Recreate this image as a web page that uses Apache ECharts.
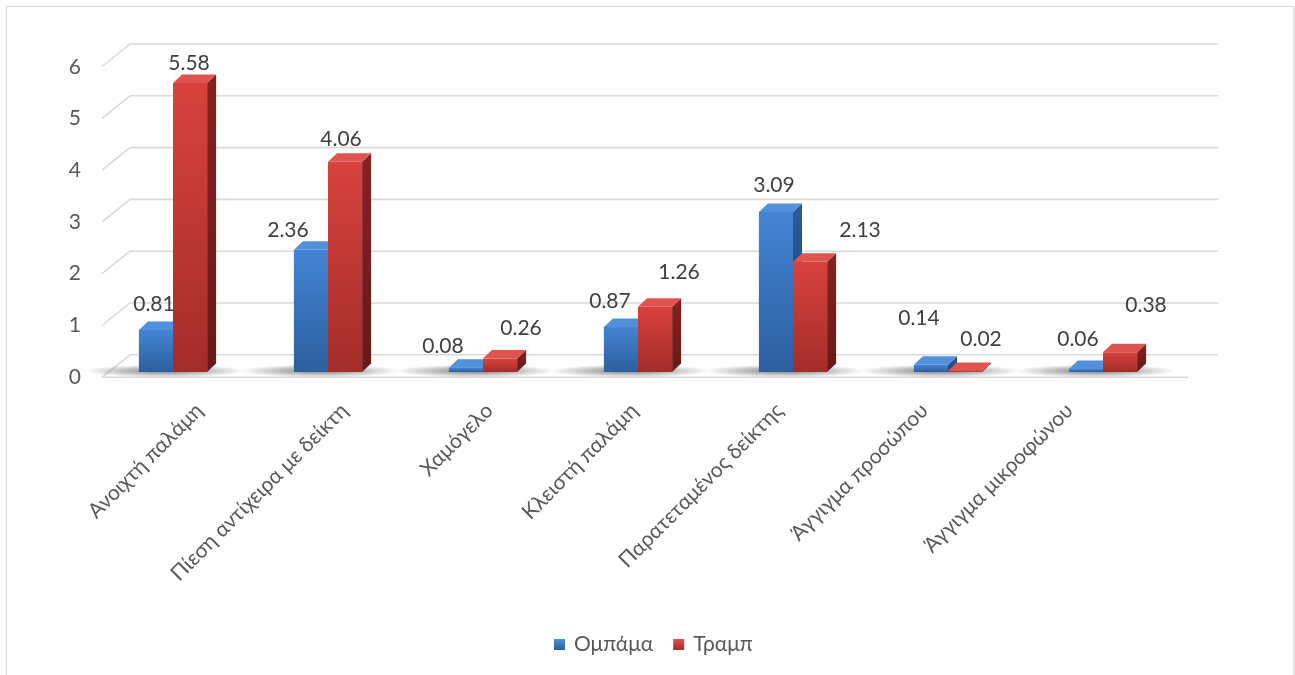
<!DOCTYPE html>
<html>
<head>
<meta charset="utf-8">
<script src="https://cdn.jsdelivr.net/npm/echarts@6/dist/echarts.min.js"></script>
<style>
  html, body { margin: 0; padding: 0; background: #ffffff; }
  #chart { width: 1295px; height: 675px; }
</style>
</head>
<body>
<div id="chart"></div>
<script>
// Categories and values
const categories = [
  'Ανοιχτή παλάμη',
  'Πίεση αντίχειρα με δείκτη',
  'Χαμόγελο',
  'Κλειστή παλάμη',
  'Παρατεταμένος δείκτης',
  'Άγγιγμα προσώπου',
  'Άγγιγμα μικροφώνου'
];
const obama = [0.81, 2.36, 0.08, 0.87, 3.09, 0.14, 0.06];
const trump = [5.58, 4.06, 0.26, 1.26, 2.13, 0.02, 0.38];
const yTicks = [0, 1, 2, 3, 4, 5, 6];

// Per-label nudges [dx, dy] so value labels stay clear of each other
const labelShiftObama = [[-2, -2], [-23, 4], [-23, 2], [-11, -2], [-2, -3], [-12, -23], [-8, -6]];
const labelShiftTrump = [[-1, 4], [-4, 2], [21, -6], [24, -10], [50, -7], [16, -8], [26, -23]];

const FONT = 'Lato, "Noto Sans", sans-serif';
const TEXT = '#595959';
const GRID_LINE = '#d9d9d9';
const BAR_RATIO = 0.22;      // bar width as share of category band
const DEPTH_X = 9, DEPTH_Y = -8.5;

// 3D-ish column: front face, right side face, top face
function columnRenderer(isLeft, palette, shifts) {
  return function (params, api) {
    const i = api.value(0), v = api.value(1);
    const top = api.coord([i, v]);
    const bot = api.coord([i, 0]);
    const band = api.size([1, 0])[0];
    const w = band * BAR_RATIO;
    const x0 = isLeft ? top[0] - w : top[0];
    const x1 = x0 + w;
    const yT = top[1], yB = bot[1];
    const children = [];
    if (isLeft) {
      // soft floor shadow under the pair of columns
      children.push({
        type: 'circle',
        x: top[0] - 8, y: yB - 1,
        scaleY: 0.08,
        shape: { cx: 0, cy: 0, r: 80 },
        style: {
          fill: {
            type: 'radial', x: 0.5, y: 0.5, r: 0.5,
            colorStops: [
              { offset: 0, color: 'rgba(0,0,0,0.5)' },
              { offset: 0.55, color: 'rgba(0,0,0,0.24)' },
              { offset: 1, color: 'rgba(0,0,0,0)' }
            ]
          }
        },
        silent: true
      });
    }
    children.push({
      type: 'polygon',
      shape: { points: [[x1, yB], [x1, yT], [x1 + DEPTH_X, yT + DEPTH_Y], [x1 + DEPTH_X, yB + DEPTH_Y]] },
      style: {
        fill: {
          type: 'linear', x: 0, y: 0, x2: 0, y2: 1,
          colorStops: [{ offset: 0, color: palette.side[0] }, { offset: 1, color: palette.side[1] }]
        }
      }
    });
    children.push({
      type: 'rect',
      shape: { x: x0, y: yT, width: w, height: Math.max(yB - yT, 0.5) },
      style: {
        fill: {
          type: 'linear', x: 0, y: 0, x2: 0, y2: 1,
          colorStops: [{ offset: 0, color: palette.front[0] }, { offset: 1, color: palette.front[1] }]
        }
      }
    });
    children.push({
      type: 'polygon',
      shape: { points: [[x0, yT], [x1, yT], [x1 + DEPTH_X, yT + DEPTH_Y], [x0 + DEPTH_X, yT + DEPTH_Y]] },
      style: { fill: palette.top }
    });
    const s = shifts[params.dataIndex];
    children.push({
      type: 'text',
      style: {
        text: v.toFixed(2),
        x: x0 + w / 2 + s[0],
        y: yT - 24 + s[1],
        align: 'center',
        verticalAlign: 'middle',
        fill: '#404040',
        fontSize: 21,
        fontFamily: FONT
      },
      z2: 10
    });
    return { type: 'group', children: children };
  };
}

// Back wall gridlines, left-side connectors and floor edge
function wallRenderer(params, api) {
  const v = api.value(1);
  const p = api.coord([0, v]);
  const cs = params.coordSys;
  const yb = p[1] - 17.2, yf = p[1] + 5.3;
  const style = { stroke: GRID_LINE, lineWidth: 1.6 };
  const children = [
    { type: 'line', shape: { x1: cs.x + 34.5, y1: yb, x2: cs.x + cs.width + 37.5, y2: yb }, style: style },
    { type: 'line', shape: { x1: cs.x + 6.5, y1: yf, x2: cs.x + 34.5, y2: yb }, style: style }
  ];
  if (v === 0) {
    children.push({ type: 'line', shape: { x1: cs.x + 6.5, y1: yf, x2: cs.x + cs.width + 7.5, y2: yf }, style: style });
  }
  return { type: 'group', children: children, silent: true };
}

const bluePalette = { front: ['#4384d4', '#2c5f9f'], side: ['#2a5a98', '#1f4578'], top: '#5290dc' };
const redPalette = { front: ['#d8423e', '#a42c29'], side: ['#85221f', '#661a18'], top: '#e0544f' };

const chart = echarts.init(document.getElementById('chart'), null, { renderer: 'canvas' });
chart.setOption({
  backgroundColor: '#ffffff',
  animation: false,
  textStyle: { fontFamily: FONT },
  graphic: [{
    type: 'rect',
    shape: { x: 6.5, y: 6.5, width: 1287.5, height: 690 },
    style: { fill: 'none', stroke: '#d9d9d9', lineWidth: 1.2 },
    silent: true
  }],
  legend: {
    data: ['Ομπάμα', 'Τραμπ'],
    left: 549,
    top: 629,
    icon: 'rect',
    itemWidth: 11,
    itemHeight: 11,
    itemGap: 20,
    textStyle: { color: TEXT, fontSize: 21, fontFamily: FONT, padding: [0, 0, 0, 4] }
  },
  grid: [
    { left: 95.5, top: 61.2, width: 1085, height: 310.8 },
    { left: 127, top: 66.8, width: 1015, height: 310.2 }
  ],
  xAxis: [
    { type: 'category', gridIndex: 0, data: categories, show: false },
    {
      type: 'category', gridIndex: 1, data: categories,
      axisLine: { show: false }, axisTick: { show: false },
      axisLabel: { rotate: 45, interval: 0, margin: 30, color: TEXT, fontSize: 21, fontFamily: FONT }
    }
  ],
  yAxis: [
    { type: 'value', gridIndex: 0, min: 0, max: 6, interval: 1, show: false },
    {
      type: 'value', gridIndex: 1, min: 0, max: 6, interval: 1,
      axisLine: { show: false }, axisTick: { show: false }, splitLine: { show: false },
      axisLabel: { margin: 46, color: TEXT, fontSize: 21, fontFamily: FONT }
    }
  ],
  series: [
    {
      type: 'custom', name: 'wall', xAxisIndex: 0, yAxisIndex: 0, z: 1, silent: true,
      data: yTicks.map(v => [0, v]), encode: { x: 0, y: 1 },
      renderItem: wallRenderer
    },
    {
      type: 'custom', name: 'Ομπάμα', xAxisIndex: 0, yAxisIndex: 0, z: 2,
      itemStyle: { color: { type: 'linear', x: 0, y: 0, x2: 0, y2: 1, colorStops: [{ offset: 0, color: '#4f8fdc' }, { offset: 1, color: '#2c5f9f' }] } },
      data: obama.map((v, i) => [i, v]), encode: { x: 0, y: 1 },
      renderItem: columnRenderer(true, bluePalette, labelShiftObama)
    },
    {
      type: 'custom', name: 'Τραμπ', xAxisIndex: 0, yAxisIndex: 0, z: 3,
      itemStyle: { color: { type: 'linear', x: 0, y: 0, x2: 0, y2: 1, colorStops: [{ offset: 0, color: '#e0544f' }, { offset: 1, color: '#a42c29' }] } },
      data: trump.map((v, i) => [i, v]), encode: { x: 0, y: 1 },
      renderItem: columnRenderer(false, redPalette, labelShiftTrump)
    }
  ]
});
</script>
</body>
</html>
